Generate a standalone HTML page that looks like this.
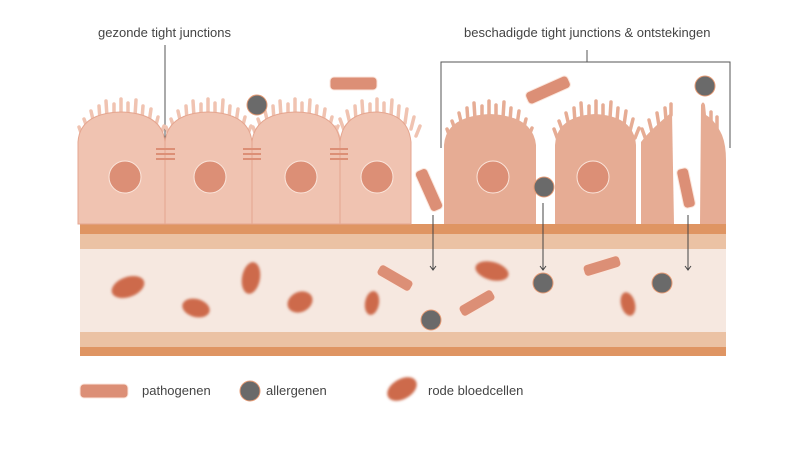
<!DOCTYPE html>
<html><head><meta charset="utf-8"><style>
body{margin:0;background:#fff;}
svg{display:block;font-family:"Liberation Sans",sans-serif;}
</style></head><body>
<svg width="799" height="450" viewBox="0 0 799 450" xmlns="http://www.w3.org/2000/svg">
<defs>
<filter id="bl" x="-30%" y="-30%" width="160%" height="160%"><feGaussianBlur stdDeviation="1.3"/></filter>
<g id="villi" stroke-width="3.5" stroke-linecap="round" fill="none">
<line x1="5" y1="138" x2="1" y2="127"/>
<line x1="10" y1="130" x2="6" y2="119"/>
<line x1="16" y1="124" x2="13" y2="111"/>
<line x1="22" y1="120" x2="21" y2="106"/>
<line x1="29" y1="117" x2="28" y2="101"/>
<line x1="36" y1="115" x2="36" y2="104"/>
<line x1="43" y1="114" x2="43" y2="99"/>
<line x1="50" y1="115" x2="50" y2="103"/>
<line x1="57" y1="116" x2="58" y2="100"/>
<line x1="64" y1="119" x2="65" y2="106"/>
<line x1="71" y1="123" x2="73" y2="109"/>
<line x1="77" y1="129" x2="80" y2="117"/>
<line x1="82" y1="136" x2="86" y2="126"/>
</g>
</defs>
<!-- labels -->
<text x="98" y="37" font-size="13" fill="#444">gezonde tight junctions</text>
<text x="464" y="37" font-size="13" fill="#444">beschadigde tight junctions &amp; ontstekingen</text>
<line x1="165" y1="45" x2="165" y2="152" stroke="#555" stroke-width="1"/>
<path d="M441 148 V62 H730 V148 M587 62 V50" stroke="#555" fill="none" stroke-width="1"/>

<!-- bands -->
<rect x="80" y="224" width="646" height="10" fill="#df9563"/>
<rect x="80" y="234" width="646" height="15" fill="#ebc2a4"/>
<rect x="80" y="249" width="646" height="83" fill="#f6e8e0"/>
<rect x="80" y="332" width="646" height="15" fill="#ebc2a4"/>
<rect x="80" y="347" width="646" height="9" fill="#df9563"/>

<!-- healthy cells -->
<g fill="#f0c3b1" stroke="#e5a690" stroke-width="1">
<g stroke="#f0c3b1"><use href="#villi" x="78"/><use href="#villi" x="165"/><use href="#villi" x="252"/><use href="#villi" x="334"/></g>
<path d="M78 224 V142 Q80 113 121 112 Q162 113 165 142 V224 Z"/>
<path d="M165 224 V142 Q168 113 208 112 Q249 113 252 142 V224 Z"/>
<path d="M252 224 V142 Q255 113 296 112 Q337 113 340 142 V224 Z"/>
<path d="M340 224 V142 Q343 113 376 112 Q408 113 411 142 V224 Z"/>
</g>
<g fill="#dc8f76" stroke="#fbe6dc" stroke-width="1">
<circle cx="125" cy="177" r="16"/><circle cx="210" cy="177" r="16"/><circle cx="301" cy="177" r="16"/><circle cx="377" cy="177" r="16"/>
</g>
<g stroke="#dc8f76" stroke-width="2">
<line x1="156" y1="149" x2="175" y2="149"/><line x1="156" y1="154" x2="175" y2="154"/><line x1="156" y1="159" x2="175" y2="159"/>
<line x1="243" y1="149" x2="261" y2="149"/><line x1="243" y1="154" x2="261" y2="154"/><line x1="243" y1="159" x2="261" y2="159"/>
<line x1="330" y1="149" x2="348" y2="149"/><line x1="330" y1="154" x2="348" y2="154"/><line x1="330" y1="159" x2="348" y2="159"/>
</g>

<!-- damaged cells -->
<g fill="#e6ac94">
<g stroke="#e6ac94"><use href="#villi" x="446" transform="translate(0,2)"/><use href="#villi" x="553" transform="translate(0,2)"/></g>
<path d="M444 224 V145 Q446 116 490 114 Q533 116 536 145 V224 Z"/>
<path d="M555 224 V145 Q557 116 595 114 Q634 116 636 145 V224 Z"/>
<path d="M641 224 V142 Q650 130 672 112 L674 224 Z"/>
<g stroke="#e6ac94" stroke-width="3.5" stroke-linecap="round"><line x1="646" y1="140" x2="642" y2="129"/><line x1="652" y1="132" x2="649" y2="120"/><line x1="659" y1="126" x2="657" y2="113"/><line x1="666" y1="120" x2="665" y2="108"/><line x1="671" y1="115" x2="671" y2="104"/></g>
<path d="M700 224 L701 105 Q703 100 705 105 L706 115 Q715 120 722 135 Q726 145 726 160 V224 Z"/>
<g stroke="#e6ac94" stroke-width="3.5" stroke-linecap="round"><line x1="711" y1="125" x2="711" y2="112"/><line x1="717" y1="130" x2="717" y2="117"/></g>
</g>
<g fill="#dc8f76" stroke="#fbe6dc" stroke-width="1"><circle cx="493" cy="177" r="16"/><circle cx="593" cy="177" r="16"/></g>

<!-- arrows -->
<g stroke="#444" stroke-width="1" fill="none">
<line x1="433" y1="215" x2="433" y2="270"/><path d="M430 266 L433 270 L436 266"/>
<line x1="543" y1="203" x2="543" y2="270"/><path d="M540 266 L543 270 L546 266"/>
<line x1="688" y1="215" x2="688" y2="270"/><path d="M685 266 L688 270 L691 266"/>
</g>

<!-- pathogens -->
<g fill="#dc8f76" stroke="#fbe6dc" stroke-width="1">
<rect x="330" y="77" width="47" height="13" rx="4"/>
<rect x="-23" y="-6.5" width="46" height="13" rx="4" transform="translate(548,90) rotate(-24)"/>
<rect x="-22" y="-6.5" width="44" height="13" rx="4" transform="translate(429,190) rotate(66)"/>
<rect x="-20" y="-6" width="40" height="12" rx="4" transform="translate(686,188) rotate(78)"/>
<rect x="-19" y="-6" width="38" height="12" rx="4" transform="translate(395,278) rotate(30)"/>
<rect x="-19" y="-6" width="38" height="12" rx="4" transform="translate(477,303) rotate(-30)"/>
<rect x="-19" y="-6" width="38" height="12" rx="4" transform="translate(602,266) rotate(-17)"/>
<rect x="80" y="384" width="48" height="14" rx="4"/>
</g>

<!-- allergens -->
<g fill="#6a6a6a" stroke="#e59a74" stroke-width="1">
<circle cx="257" cy="105" r="10"/><circle cx="705" cy="86" r="10"/><circle cx="544" cy="187" r="10"/>
<circle cx="543" cy="283" r="10"/><circle cx="431" cy="320" r="10"/><circle cx="662" cy="283" r="10"/>
<circle cx="250" cy="391" r="10"/>
</g>

<!-- red blood cells -->
<g fill="#cd6a4c" filter="url(#bl)">
<ellipse cx="128" cy="287" rx="17" ry="10" transform="rotate(-20 128 287)"/>
<ellipse cx="196" cy="308" rx="14" ry="9" transform="rotate(15 196 308)"/>
<ellipse cx="251" cy="278" rx="9" ry="16" transform="rotate(10 251 278)"/>
<ellipse cx="300" cy="302" rx="13" ry="10" transform="rotate(-25 300 302)"/>
<ellipse cx="372" cy="303" rx="7" ry="12" transform="rotate(10 372 303)"/>
<ellipse cx="492" cy="271" rx="17" ry="9" transform="rotate(15 492 271)"/>
<ellipse cx="628" cy="304" rx="7" ry="12" transform="rotate(-15 628 304)"/>
<ellipse cx="402" cy="389" rx="16" ry="10" transform="rotate(-30 402 389)"/>
</g>

<!-- legend -->
<g font-size="13" fill="#444">
<text x="142" y="395">pathogenen</text>
<text x="266" y="395">allergenen</text>
<text x="428" y="395">rode bloedcellen</text>
</g>
</svg>
</body></html>
